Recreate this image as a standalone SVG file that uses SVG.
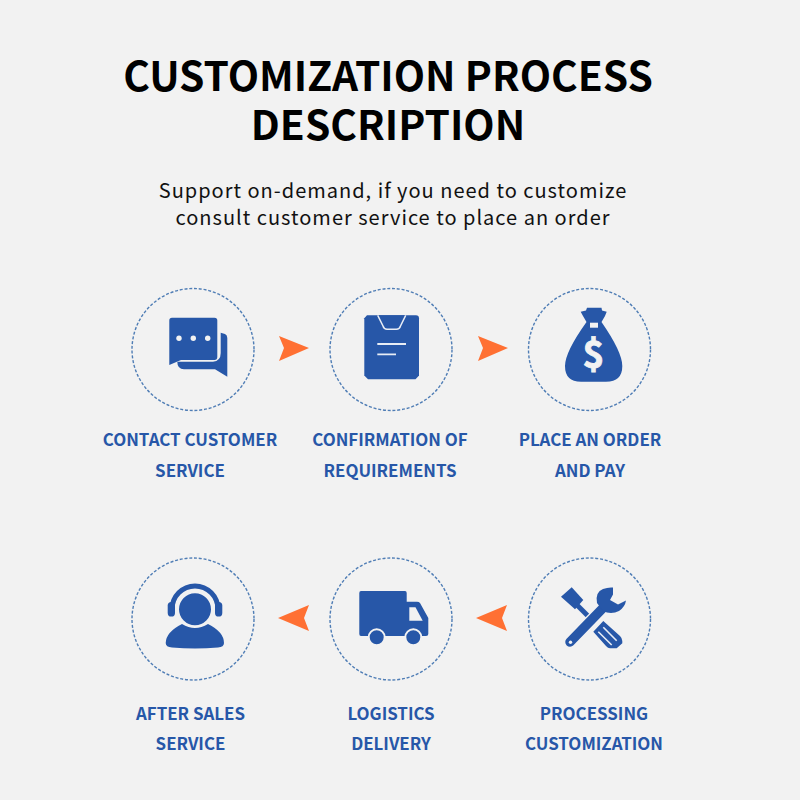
<svg xmlns="http://www.w3.org/2000/svg" width="800" height="800" viewBox="0 0 800 800">
<style>
text{font-family:"Noto Sans CJK SC","Noto Sans",sans-serif;text-anchor:middle}
.t{font-size:40.700px;font-weight:700;fill:#000}
.s{font-size:20px;fill:#111;letter-spacing:1px}
.l{font-size:16.900px;font-weight:700;fill:#2757a8}
.c{fill:none;stroke:#4f7db5;stroke-width:1.400;stroke-dasharray:3 1.800}
.b{fill:#2757a8}
.w{fill:#f2f2f2}
.a{fill:#ff7033}
</style>
<rect width="800" height="800" fill="#f2f2f2"/>
<text class="t" x="388" y="91">CUSTOMIZATION PROCESS</text>
<text class="t" x="388" y="140">DESCRIPTION</text>
<text class="s" x="393" y="198">Support on-demand, if you need to customize</text>
<text class="s" x="393" y="225">consult customer service to place an order</text>
<g id="connectors">
<path class="a" d="M279 336L309 348L279 361L284 348Z"/>
<path class="a" d="M478 336L508 348L478 361L483 348Z"/>
<path class="a" d="M309 605L278 618L309 631L304 618Z"/>
<path class="a" d="M507 605L476 618L507 631L502 618Z"/>
</g>
<g id="node-contact">
<circle class="c" cx="193" cy="349.500" r="61"/>
<path class="b" d="M172 317.700H214.500Q217.300 317.700 217.300 320.500V357Q217.300 360 214.500 360H181L169.300 365V320.500Q169.300 317.700 172 317.700Z"/>
<path class="b" d="M220.700 332.700L225 334Q227.300 335 227.300 338V376.700L215 369.300H184Q177.300 369 177.300 361.700H213Q220.700 361 220.700 353Z"/>
<circle class="w" cx="179" cy="338.300" r="2.700"/><circle class="w" cx="193.300" cy="338.300" r="2.700"/><circle class="w" cx="207.700" cy="338.300" r="2.700"/>
<text class="l" x="190" y="446">CONTACT CUSTOMER</text>
<text class="l" x="190" y="477">SERVICE</text>
</g>
<g id="node-confirm">
<circle class="c" cx="391" cy="349.500" r="61"/>
<path class="b" d="M367 315.300H416Q419 315.300 419 318.300V375.500L415.500 379.300H368L364.300 375.500V318.300Z"/>
<path class="b" d="M377.700 315.300L383 326Q384 329.300 387 329.300H396.500Q399.500 329.300 400.500 326L405.700 315.300" stroke="#e8edf5" stroke-width="1.500"/>
<path d="M377.300 344H406M377.300 354.300H396" stroke="#e8edf5" stroke-width="1.800" fill="none"/>
<text class="l" x="390" y="446">CONFIRMATION OF</text>
<text class="l" x="390" y="477">REQUIREMENTS</text>
</g>
<g id="node-pay">
<circle class="c" cx="589.500" cy="349.500" r="61"/>
<path class="b" d="M587 307.700H601.500L602 310.500L606.700 311.700L605 316L601.500 322Q622.300 352 622.300 366Q622.300 381.700 606 381.700H581Q565 381.700 565 366Q565 352 586.500 322L583 316L580.700 311.700L586 310.500Z"/>
<rect class="w" x="590" y="322.700" width="8" height="5"/>
<text x="593.500" y="368" stroke="#f2f2f2" stroke-width="0.800" style="font-size:37px;font-weight:700;fill:#f2f2f2">$</text>
<text class="l" x="590" y="446">PLACE AN ORDER</text>
<text class="l" x="590" y="477">AND PAY</text>
</g>
<g id="node-after-sales">
<circle class="c" cx="193" cy="619" r="61"/>
<path class="b" d="M169.500 609A25.500 25.500 0 0 1 220.500 609H215.500A20.500 20.500 0 0 0 174.500 609Z"/>
<rect class="b" x="167.700" y="602" width="7.300" height="14.500" rx="3.600"/>
<rect class="b" x="215" y="602" width="7.300" height="14.500" rx="3.600"/>
<path class="b" d="M182 624Q195 632 208 624Q224 632 224 643Q224 647 218 647.500Q195 649.500 172 647.500Q165.700 647 165.700 643Q166 632 182 624Z"/>
<circle class="b" cx="195" cy="609.300" r="17" stroke="#f2f2f2" stroke-width="2"/>
<text class="l" x="190.500" y="720">AFTER SALES</text>
<text class="l" x="190.500" y="750">SERVICE</text>
</g>
<g id="node-logistics">
<circle class="c" cx="391" cy="619" r="61"/>
<path class="b" d="M361 591H405Q406.700 591 406.700 593V601.700H417Q419 601.700 420 603L428.300 618V634Q428.300 636 426 636H361Q359.300 636 359.300 634V593Q359.300 591 361 591Z"/>
<path class="w" d="M409.300 607.300H415.500L422.700 620.700H409.300Z"/>
<circle class="b" cx="376.700" cy="637.300" r="8" stroke="#f2f2f2" stroke-width="2"/>
<circle class="b" cx="413.300" cy="637.300" r="8" stroke="#f2f2f2" stroke-width="2"/>
<text class="l" x="391" y="720">LOGISTICS</text>
<text class="l" x="391" y="750">DELIVERY</text>
</g>
<g id="node-customization">
<circle class="c" cx="589.500" cy="619" r="61"/>
<path d="M575 603L595 623" stroke="#2757a8" stroke-width="5" fill="none"/>
<path class="b" d="M561 596.700L571.700 587.300L583.300 600L575 609.300Z"/>
<path class="b" d="M593.300 631.700L603.300 621L620 636Q622.300 638.300 622.300 641V643.300L616.700 648.300H610Q608 648.300 606 646Z"/>
<path d="M598.300 631.700L611.700 645M603.300 627.300L616.700 640.700" stroke="#e8edf5" stroke-width="1.600" fill="none"/>
<path d="M570 642L603 608" stroke="#f2f2f2" stroke-width="12" fill="none"/>
<path d="M570 642L603 608" stroke="#2757a8" stroke-width="9.500" stroke-linecap="round" fill="none"/>
<path class="b" d="M613 587.500V594.500L610 600L618 604.500L626 600.500Q625 607 619 611Q611 615 603 611L597 603Q595 592 603 589Q608 587 613 587.500Z"/>
<circle class="w" cx="570.500" cy="642.300" r="1.700"/>
<text class="l" x="594" y="720">PROCESSING</text>
<text class="l" x="594" y="750">CUSTOMIZATION</text>
</g>
</svg>
